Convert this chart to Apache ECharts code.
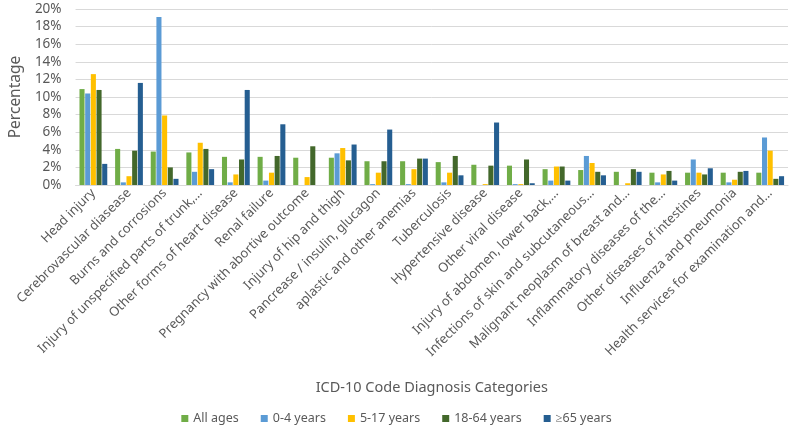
<!DOCTYPE html>
<html>
<head>
<meta charset="utf-8">
<script src="https://cdn.jsdelivr.net/npm/echarts@6/dist/echarts.min.js"></script>
<style>html,body{margin:0;padding:0;background:#fff}#c{width:793px;height:436px}</style>
</head>
<body>
<div id="c"></div>
<script>
const categories = [
  "Head injury",
  "Cerebrovascular diasease",
  "Burns and corrosions",
  "Injury of unspecified parts of trunk,…",
  "Other forms of heart disease",
  "Renal failure",
  "Pregnancy with abortive outcome",
  "Injury of hip and thigh",
  "Pancrease / insulin, glucagon",
  "aplastic and other anemias",
  "Tuberculosis",
  "Hypertensive disease",
  "Other viral disease",
  "Injury of abdomen, lower back,…",
  "Infections of skin and subcutaneous…",
  "Malignant neoplasm of breast and…",
  "Inflammatory diseases of the…",
  "Other diseases of intestines",
  "Influenza and pneumonia",
  "Health services for examination and…"
];
const seriesNames = ["All ages", "0-4 years", "5-17 years", "18-64 years", "≥65 years"];
const allAges   = [10.9, 4.1, 3.8, 3.7, 3.2, 3.2, 3.1, 3.1, 2.7, 2.7, 2.6, 2.3, 2.2, 1.8, 1.7, 1.5, 1.4, 1.4, 1.4, 1.4];
const age0to4   = [10.4, 0.3, 19.1, 1.5, 0.3, 0.5, 0.0, 3.6, 0.1, 0.1, 0.3, 0.0, 0.1, 0.5, 3.3, 0.0, 0.3, 2.9, 0.3, 5.4];
const age5to17  = [12.6, 1.0, 7.9, 4.8, 1.2, 1.4, 0.9, 4.2, 1.4, 1.8, 1.4, 0.1, 0.1, 2.1, 2.5, 0.2, 1.2, 1.4, 0.6, 3.9];
const age18to64 = [10.8, 3.9, 2.0, 4.1, 2.9, 3.3, 4.4, 2.8, 2.7, 3.0, 3.3, 2.2, 2.9, 2.1, 1.5, 1.8, 1.6, 1.2, 1.5, 0.7];
const age65plus = [2.4, 11.6, 0.7, 1.8, 10.8, 6.9, 0.0, 4.6, 6.3, 3.0, 1.1, 7.1, 0.2, 0.5, 1.1, 1.5, 0.5, 1.9, 1.6, 1.0];
const yTicks = [0, 2, 4, 6, 8, 10, 12, 14, 16, 18, 20];

const colors = ["#70AD47", "#5B9BD5", "#FFC000", "#43682B", "#255E91"];
const dataSets = [allAges, age0to4, age5to17, age18to64, age65plus];
const FONT = "Noto Sans";

const chart = echarts.init(document.getElementById('c'), null, {renderer: 'canvas'});
chart.setOption({
  animation: false,
  color: colors,
  textStyle: {fontFamily: FONT},
  grid: {left: 65, right: 5, top: 9, bottom: 251, containLabel: false},
  legend: {
    bottom: 6, left: 'center',
    itemWidth: 7, itemHeight: 7, itemGap: 22, icon: 'rect',
    textStyle: {color: '#595959', fontSize: 12.5, fontFamily: FONT},
    data: seriesNames
  },
  xAxis: {
    type: 'category',
    data: categories,
    name: 'ICD-10 Code Diagnosis Categories',
    nameLocation: 'middle',
    nameGap: 195,
    nameTextStyle: {color: '#595959', fontSize: 14.5, fontFamily: FONT},
    axisLine: {lineStyle: {color: '#D9D9D9'}},
    axisTick: {show: false},
    axisLabel: {rotate: 45, interval: 0, color: '#595959', fontSize: 13, fontFamily: FONT, margin: 6}
  },
  yAxis: {
    type: 'value',
    min: yTicks[0], max: yTicks[yTicks.length - 1], interval: 2,
    name: 'Percentage',
    nameLocation: 'middle',
    nameGap: 48,
    nameTextStyle: {color: '#595959', fontSize: 15.5, fontFamily: FONT},
    axisLine: {show: false},
    axisTick: {show: false},
    splitLine: {lineStyle: {color: '#D9D9D9', width: 1}},
    axisLabel: {color: '#595959', fontSize: 13.5, fontFamily: FONT, formatter: v => v + '%', margin: 14}
  },
  series: seriesNames.map((n, i) => ({
    name: n,
    type: 'bar',
    data: dataSets[i],
    barGap: '12%',
    barCategoryGap: '22%',
    itemStyle: {color: colors[i]}
  }))
});
</script>
</body>
</html>
